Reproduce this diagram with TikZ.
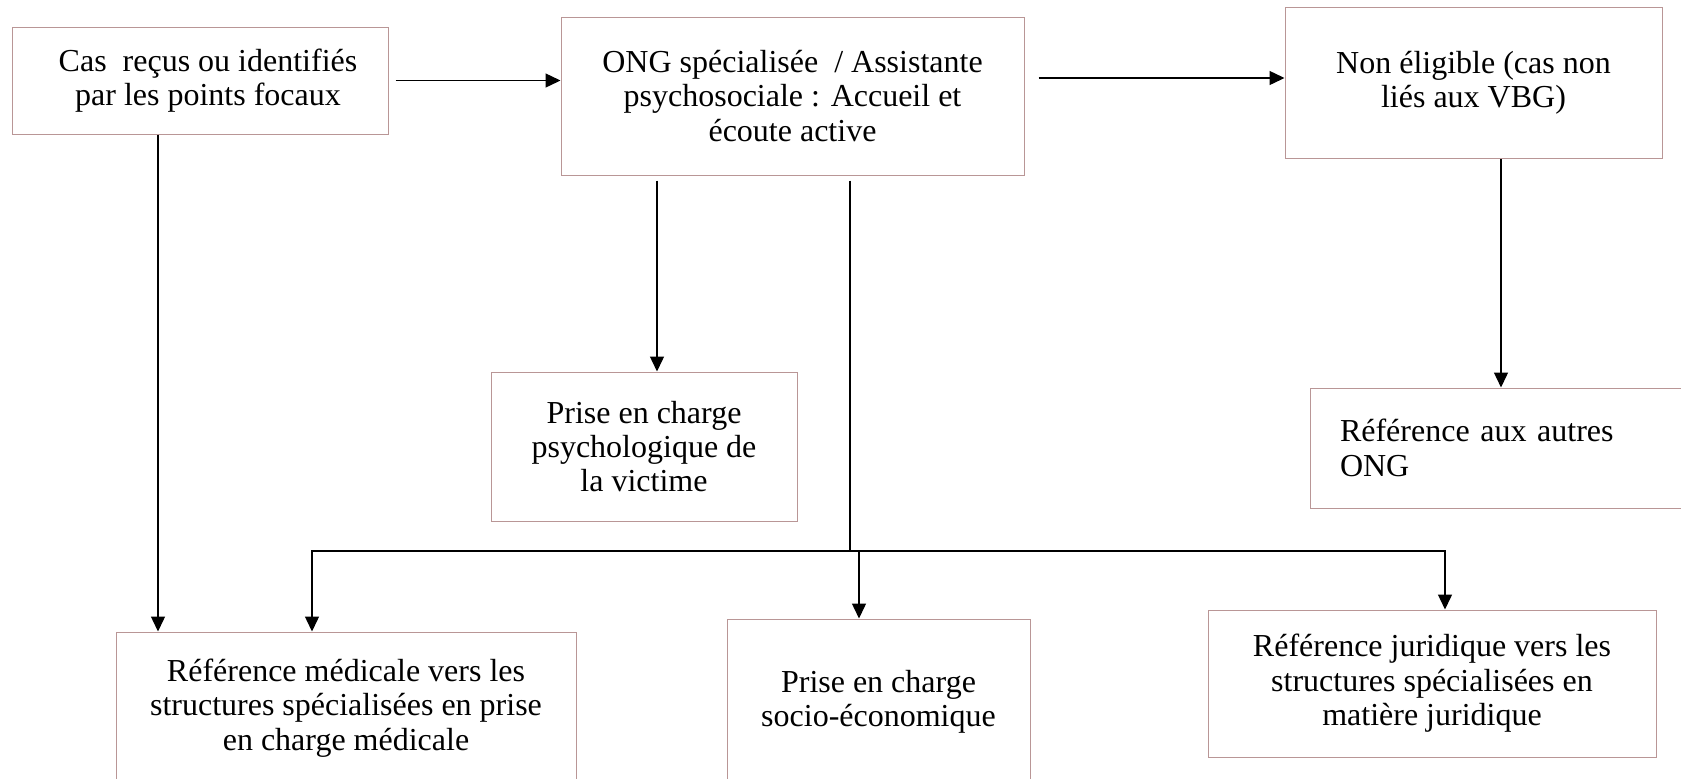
\documentclass[tikz,border=0pt]{standalone}
\usepackage{fontspec}
\setmainfont{Liberation Serif}
\usepackage{xcolor}
\usetikzlibrary{positioning, arrows.meta}

\definecolor{boxline}{RGB}{185,150,150}

\begin{document}
\begin{tikzpicture}[
    x=0.5pt, y=-0.5pt,
    every node/.style={font=\fontsize{16}{17.2}\selectfont},
    box/.style={draw=boxline, line width=0.5pt, align=center, inner sep=0pt},
    arrow/.style={-{Triangle[length=7.5pt, width=7pt]}, line width=0.7pt},
    line/.style={line width=0.7pt},
  ]
  \useasboundingbox (0,0) rectangle (1681,778);

  % ---- Top row ----
  \node[box, minimum width=188pt, minimum height=53.5pt] (cas) at (200,80.5)
    {\hspace*{8pt}Cas\ \ reçus ou identifiés\\\hspace*{8pt}par les points focaux};
  \node[box, minimum width=231.5pt, minimum height=79pt] (ong) at (792.5,96)
    {ONG spécialisée\ \ / Assistante\\psychosociale : Accueil et\\écoute active};
  \node[box, minimum width=188.5pt, minimum height=75.75pt] (nonelig) at (1473.5,83)
    {Non éligible (cas non\\liés aux VBG)};

  % ---- Middle row ----
  \node[box, minimum width=153pt, minimum height=74.5pt] (psych) at (644,446.5)
    {Prise en charge\\psychologique de\\la victime};
  \node[box, align=left, text width=156pt, inner xsep=15pt, minimum height=60pt] (autres) at (1496,448)
    {Référence aux autres\\ONG};

  % ---- Bottom row ----
  \node[box, minimum width=230pt, minimum height=76pt] (medical) at (346,708)
    {Référence médicale vers les\\structures spécialisées en prise\\en charge médicale};
  \node[box, minimum width=151.5pt, minimum height=83pt] (socio) at (878.5,702)
    {Prise en charge\\socio-économique};
  \node[box, minimum width=224pt, minimum height=73.5pt] (juridique) at (1432,683.5)
    {Référence juridique vers les\\structures spécialisées en\\matière juridique};

  % ---- Arrows ----
  \draw[arrow] ([xshift=3.5pt]cas.east) -- (cas.east -| ong.west);
  \draw[arrow] ([xshift=7pt, yshift=2.5pt]ong.east |- nonelig.west) -- ([yshift=2.5pt]nonelig.west);
  \draw[arrow] ([xshift=-21pt]cas.south) -- ([xshift=-21pt]cas.south |- medical.north);
  \draw[arrow] ([xshift=6.5pt, yshift=-2.5pt]psych.north |- ong.south) -- ([xshift=6.5pt]psych.north);
  \draw[arrow] ([xshift=13.75pt]nonelig.south) -- ([xshift=13.75pt]nonelig.south |- autres.north);

  % ---- Distribution bus ----
  \coordinate (bus) at (850,551);
  \draw[line] ([xshift=28.75pt, yshift=-2.5pt]ong.south) -- (bus);
  \draw[arrow] (bus) -| ([xshift=-17pt]medical.north);
  \draw[arrow] (bus) -| ([xshift=6.5pt]juridique.north);
  \draw[arrow] ([xshift=-9.75pt]socio.north |- bus) -- ([xshift=-9.75pt]socio.north);

\end{tikzpicture}
\end{document}
